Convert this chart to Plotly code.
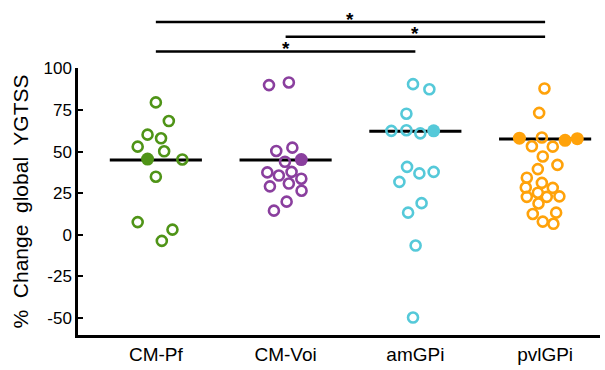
import plotly.graph_objects as go

# ---- data ----
groups = ["CM-Pf", "CM-Voi", "amGPi", "pvlGPi"]
colors = ["#4f9417", "#8a3f9e", "#55c9d9", "#ffa20a"]

cmpf_vals = [79.6, 68.4, 60.2, 58.0, 53.0, 50.2, 45.3, 34.9, 7.6, 3.1, -3.7]
cmpf_jit = [0.0, 0.10, -0.064, 0.04, -0.14, 0.064, 0.204, 0.0, -0.14, 0.128, 0.046]
cmvoi_vals = [90.0, 91.6, 50.4, 52.4, 43.9, 37.5, 35.6, 37.8, 33.7, 29.1, 30.8, 26.5, 19.9, 14.5]
cmvoi_jit = [-0.128, 0.025, -0.072, 0.052, -0.005, -0.141, -0.052, 0.046, 0.121, -0.121, 0.025, 0.123, 0.008, -0.09]
amgpi_vals = [90.6, 87.5, 72.8, 62.5, 62.9, 61.0, 40.8, 36.9, 37.8, 31.8, 19.0, 13.3, -6.5, -49.8]
amgpi_jit = [-0.018, 0.108, -0.069, -0.185, -0.069, 0.038, -0.064, 0.031, 0.141, -0.123, 0.048, -0.056, 0.002, -0.018]
pvl_vals = [88.0, 73.3, 58.5, 53.2, 53.0, 47.1, 39.5, 42.0, 34.3, 31.2, 28.4, 28.2, 25.3, 22.8, 22.8, 23.1, 18.8, 12.5, 13.3, 7.9, 6.6]
pvl_jit = [-0.005, -0.046, -0.025, -0.102, 0.059, -0.018, -0.056, 0.095, -0.141, -0.025, -0.149, 0.059, -0.056, -0.141, 0.013, 0.11, -0.051, -0.095, 0.085, -0.018, 0.064]

# highlighted (filled) patients
cmpf_fill_vals, cmpf_fill_jit = [45.5], [-0.064]
cmvoi_fill_vals, cmvoi_fill_jit = [45.2], [0.121]
amgpi_fill_vals, amgpi_fill_jit = [62.5], [0.141]
pvl_fill_vals, pvl_fill_jit = [58.1, 56.8, 57.8], [-0.198, 0.154, 0.248]

medians = [45.0, 45.0, 62.2, 57.6]

# significance comparisons (group index pairs, 1-based)
sig_pairs = [(1, 4), (2, 4), (1, 3)]
sig_labels = ["*", "*", "*"]

y_ticks = [100, 75, 50, 25, 0, -25, -50]

open_vals = [cmpf_vals, cmvoi_vals, amgpi_vals, pvl_vals]
open_jit = [cmpf_jit, cmvoi_jit, amgpi_jit, pvl_jit]
fill_vals = [cmpf_fill_vals, cmvoi_fill_vals, amgpi_fill_vals, pvl_fill_vals]
fill_jit = [cmpf_fill_jit, cmvoi_fill_jit, amgpi_fill_jit, pvl_fill_jit]

FONT = "Arial, 'Liberation Sans', sans-serif"
fig = go.Figure()

hw = 0.355
for i, m in enumerate(medians):
    c = i + 1
    fig.add_trace(go.Scatter(x=[c - hw, c + hw], y=[m, m], mode="lines",
                             line=dict(color="black", width=3), showlegend=False,
                             hoverinfo="skip"))

for i in range(4):
    c = i + 1
    fig.add_trace(go.Scatter(
        x=[c + j for j in open_jit[i]], y=open_vals[i], mode="markers",
        marker=dict(symbol="circle-open", size=10, color=colors[i],
                    line=dict(width=2.6, color=colors[i])),
        showlegend=False, name=groups[i]))
    fig.add_trace(go.Scatter(
        x=[c + j for j in fill_jit[i]], y=fill_vals[i], mode="markers",
        marker=dict(symbol="circle", size=13, color=colors[i],
                    line=dict(width=0)),
        showlegend=False, name=groups[i]))

bar_levels = [1.172, 1.117, 1.062]
shapes = []
annotations = []
for (a, b), lev, lab in zip(sig_pairs, bar_levels, sig_labels):
    shapes.append(dict(type="line", xref="x", yref="paper", x0=a, x1=b,
                       y0=lev, y1=lev, line=dict(color="black", width=2.5)))
    annotations.append(dict(xref="x", yref="paper", x=(a + b) / 2, y=lev,
                            text="<b>" + lab + "</b>", showarrow=False,
                            yanchor="middle", yshift=3,
                            font=dict(family=FONT, size=19, color="black")))

fig.update_layout(
    width=605, height=370,
    margin=dict(l=78, r=5, t=68, b=29),
    plot_bgcolor="white", paper_bgcolor="white",
    shapes=shapes, annotations=annotations,
    font=dict(family=FONT, color="black"),
)
fig.update_xaxes(range=[0.4, 4.423], tickvals=[1, 2, 3, 4], ticktext=groups,
                 showgrid=False, zeroline=False, showline=True,
                 linecolor="black", linewidth=2.5, ticks="",
                 tickfont=dict(family=FONT, size=19, color="black"))
fig.update_yaxes(range=[-60.3, 100.3], tickvals=y_ticks,
                 ticktext=[str(v) for v in y_ticks],
                 showgrid=False, zeroline=False, showline=True,
                 linecolor="black", linewidth=2.5, ticks="inside",
                 ticklen=5, tickwidth=2, tickcolor="black",
                 tickfont=dict(family=FONT, size=17, color="black"),
                 title=dict(text="%  Change  global  YGTSS", standoff=10,
                            font=dict(family=FONT, size=21, color="black")))

fig.write_html("out.html", config={"displayModeBar": False},
               post_script="document.body.style.margin='0';document.body.style.overflow='hidden';")
